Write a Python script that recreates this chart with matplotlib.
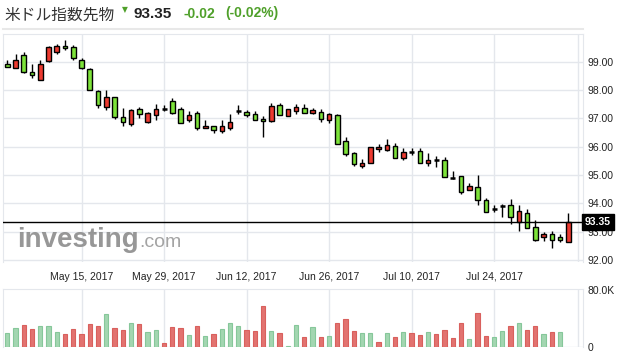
import matplotlib
matplotlib.use('Agg')
import matplotlib.pyplot as plt
from matplotlib.lines import Line2D
import numpy as np
import pandas as pd

# daily candles, US dollar index futures, May 2 - Aug 4 2017
opens = [98.94, 98.79, 99.25, 98.65, 98.37, 99.02, 99.35, 99.57, 99.53, 99.06,
         98.75, 97.98, 97.42, 97.74, 97.04, 96.82, 97.32, 96.89, 97.13, 97.32,
         97.62, 97.34, 96.94, 97.18, 96.66, 96.74, 96.55, 96.66, 97.26, 97.24,
         97.16, 96.99, 96.91, 97.48, 97.09, 97.27, 97.38, 97.20, 97.24, 96.96,
         97.13, 96.19, 95.77, 95.31, 95.42, 95.91, 95.89, 96.01, 95.59, 95.82,
         95.84, 95.42, 95.52, 95.55, 94.88, 94.95, 94.47, 94.57, 94.13, 93.80,
         93.90, 93.94, 93.35, 93.66, 93.17, 92.81, 92.93, 92.80, 92.62]
closes = [98.82, 99.07, 98.65, 98.54, 98.93, 99.53, 99.57, 99.49, 99.14, 98.79,
          98.02, 97.46, 97.77, 97.04, 96.89, 97.29, 97.14, 97.18, 97.34, 97.32,
          97.20, 96.85, 97.13, 96.66, 96.75, 96.59, 96.72, 96.88, 97.26, 97.13,
          96.95, 96.92, 97.45, 97.13, 97.34, 97.42, 97.20, 97.31, 96.97, 97.15,
          96.08, 95.73, 95.38, 95.42, 95.98, 95.98, 96.05, 95.59, 95.80, 95.82,
          95.42, 95.53, 95.52, 94.92, 94.88, 94.41, 94.60, 94.12, 93.70, 93.80,
          93.90, 93.52, 93.73, 93.14, 92.71, 92.93, 92.72, 92.72, 93.35]
highs = [99.08, 99.29, 99.36, 98.91, 99.08, 99.57, 99.62, 99.78, 99.60, 99.15,
         98.79, 98.02, 97.99, 97.74, 97.36, 97.33, 97.40, 97.22, 97.51, 97.46,
         97.71, 97.42, 97.28, 97.27, 96.93, 96.74, 96.95, 97.14, 97.49, 97.31,
         97.27, 97.09, 97.55, 97.55, 97.34, 97.52, 97.50, 97.36, 97.32, 97.19,
         97.17, 96.33, 95.80, 95.57, 95.98, 96.08, 96.27, 96.12, 95.94, 95.96,
         95.96, 95.78, 95.69, 95.63, 95.14, 94.95, 94.72, 95.00, 94.20, 93.95,
         93.99, 94.14, 93.95, 93.81, 93.43, 93.00, 93.03, 92.93, 93.66]
lows = [98.80, 98.79, 98.61, 98.43, 98.37, 98.99, 99.28, 99.41, 99.07, 98.73,
        98.02, 97.37, 97.30, 96.99, 96.74, 96.74, 97.00, 96.85, 96.96, 97.25,
        97.15, 96.85, 96.87, 96.59, 96.66, 96.48, 96.48, 96.59, 97.15, 97.06,
        96.95, 96.34, 96.87, 97.13, 97.09, 97.17, 97.20, 97.15, 96.89, 96.85,
        96.08, 95.68, 95.31, 95.26, 95.42, 95.82, 95.86, 95.59, 95.54, 95.72,
        95.42, 95.31, 95.27, 94.92, 94.85, 94.33, 94.47, 93.94, 93.70, 93.70,
        93.51, 93.28, 93.03, 93.14, 92.67, 92.67, 92.44, 92.62, 92.62]

# volume in thousands (no bar yet for the last day), 1 = green bar, 0 = red bar
volumes = [20.0, 26.5, 31.2, 25.1, 29.3, 29.3, 20.9, 18.1, 25.1, 18.1,
           32.1, 29.3, 46.0, 26.5, 23.7, 33.5, 32.1, 20.9, 23.7, 5.6,
           27.9, 26.5, 16.7, 29.3, 15.3, 18.1, 25.1, 33.5, 29.3, 23.7,
           22.3, 57.7, 22.3, 19.5, 1.4, 30.7, 14.0, 27.9, 14.4, 15.3,
           33.5, 39.1, 22.3, 19.5, 19.5, 7.0, 19.5, 14.0, 20.9, 19.5,
           16.7, 20.9, 18.1, 23.7, 12.6, 33.5, 11.2, 47.4, 15.3, 14.0,
           22.3, 29.3, 33.5, 23.7, 29.3, 18.1, 20.9, 20.9, np.nan]
vol_up = [1, 1, 0, 0, 1, 1, 1, 0, 0, 0, 0, 0, 1, 0, 0, 1, 0, 1, 1, 0,
          0, 0, 1, 0, 1, 0, 1, 1, 1, 0, 0, 0, 1, 0, 1, 1, 0, 1, 0, 1,
          0, 0, 0, 1, 1, 0, 1, 0, 1, 0, 0, 1, 0, 0, 0, 0, 1, 0, 0, 1,
          1, 0, 1, 0, 0, 1, 0, 1, 0]

dates = pd.bdate_range('2017-05-02', periods=len(opens))
last_price = 93.35
title = '米ドル指数先物'
change = '-0.02'
change_pct = '(-0.02%)'

W, H = 625, 362
fig = plt.figure(figsize=(W / 100, H / 100), dpi=100)
grid_c = '#e4e7ec'
num_font = 'Liberation Sans'

ax = fig.add_axes([3.3 / W, 1 - 262 / H, (583 - 3.3) / W, (262 - 33.5) / H])
vax = fig.add_axes([3.3 / W, 1 - 347.3 / H, (583 - 3.3) / W, (347.3 - 288.7) / H])

x = np.arange(len(opens))
o = np.array(opens)
c = np.array(closes)
up_c, down_c = '#ec3a30', '#7de33a'

ax.vlines(x, lows, highs, color='black', lw=1, zorder=3)
doji = o == c
body_cols = [up_c if cc > oo else down_c for oo, cc in zip(o, c)]
ax.bar(x[~doji], np.abs(c - o)[~doji], bottom=np.minimum(o, c)[~doji], width=0.55,
       color=[b for b, d in zip(body_cols, doji) if not d], edgecolor='black', linewidth=1, zorder=4)
ax.hlines(c[doji], x[doji] - 0.3, x[doji] + 0.3, color='black', lw=1.8, zorder=4)

ax.axhline(last_price, color='black', lw=1, zorder=5)

ax.set_xlim(-0.48, 69.78)
ax.set_ylim(91.93, 100)
ax.set_yticks(np.arange(92, 100))
ax.set_yticklabels(['%.2f' % v for v in np.arange(92, 100)])
ax.yaxis.tick_right()
ticks = x[9::10]
ax.set_xticks(ticks)
ax.set_xticklabels([f'{d:%b} {d.day}, {d.year}' for d in dates[ticks]])
ax.tick_params(axis='both', length=0, labelsize=7.5, colors='#222222')
ax.tick_params(axis='y', pad=3)
ax.tick_params(axis='x', pad=7)
ax.grid(True, color=grid_c, lw=1, zorder=0)
ax.axvline(69.18, color=grid_c, lw=1, zorder=0)
for s in ['left', 'top', 'right']:
    ax.spines[s].set_color(grid_c)
ax.spines['bottom'].set_visible(False)
for lab in ax.get_xticklabels() + ax.get_yticklabels():
    lab.set_fontfamily(num_font)

ax.annotate('%.2f' % last_price, xy=(1.0, last_price), xycoords=('axes fraction', 'data'),
            xytext=(1.5, 0), textcoords='offset points', ha='left', va='center',
            fontsize=7.5, fontweight='bold', color='white', family=num_font,
            bbox=dict(boxstyle='square,pad=0.28', fc='black', ec='black'), zorder=6,
            annotation_clip=False)

# volume panel
vcols = ['#a3d6b1' if u else '#e27370' for u in vol_up]
ecols = ['#86c79a' if u else '#d9605d' for u in vol_up]
vax.bar(x, volumes, width=0.5, color=vcols, edgecolor=ecols, linewidth=0.8, zorder=3)
vax.set_xlim(-0.48, 69.78)
vax.set_ylim(0, 81.5)
vax.set_yticks([0, 80])
vax.set_yticklabels(['0', '80.0K'])
vax.yaxis.tick_right()
vax.set_xticks(ticks)
vax.set_xticklabels([])
vax.tick_params(axis='both', length=0, labelsize=7.5, colors='#222222', pad=3)
vax.grid(True, axis='x', color=grid_c, lw=1, zorder=0)
vax.axhline(0, color=grid_c, lw=1, zorder=0)
vax.axvline(69.18, color=grid_c, lw=1, zorder=0)
for s in ['left', 'top', 'right']:
    vax.spines[s].set_color(grid_c)
vax.spines['bottom'].set_visible(False)
for lab in vax.get_yticklabels():
    lab.set_fontfamily(num_font)

# header
fig.text(4 / W, 1 - 19.5 / H, title, fontsize=11.3, color='#333333',
         family=['Noto Sans CJK JP', 'DejaVu Sans'], va='baseline')
fig.text(125 / W, 1 - 10 / H, '▼', fontsize=5.5, color='#4fa02a', ha='center', va='center')
fig.text(133 / W, 1 - 17.5 / H, '%.2f' % last_price, fontsize=11, fontweight='bold',
         color='#222222', family=num_font, va='baseline')
fig.text(183 / W, 1 - 17.5 / H, change, fontsize=10, fontweight='bold',
         color='#4fa02a', family=num_font, va='baseline')
fig.text(225 / W, 1 - 17.5 / H, change_pct, fontsize=10, fontweight='bold',
         color='#4fa02a', family=num_font, va='baseline')
fig.add_artist(Line2D([3 / W, 583 / W], [1 - 29 / H, 1 - 29 / H], color='#e8e8e8', lw=1.5))

# watermark
fig.text(17 / W, 1 - 247 / H, 'investing', fontsize=20, fontweight='bold',
         color='#8c8c8c', family=num_font, va='baseline', alpha=0.9)
fig.text(139 / W, 1 - 247 / H, '.com', fontsize=14, color='#9a9a9a',
         family=num_font, va='baseline', alpha=0.9)

fig.savefig('out.png', dpi=100)
